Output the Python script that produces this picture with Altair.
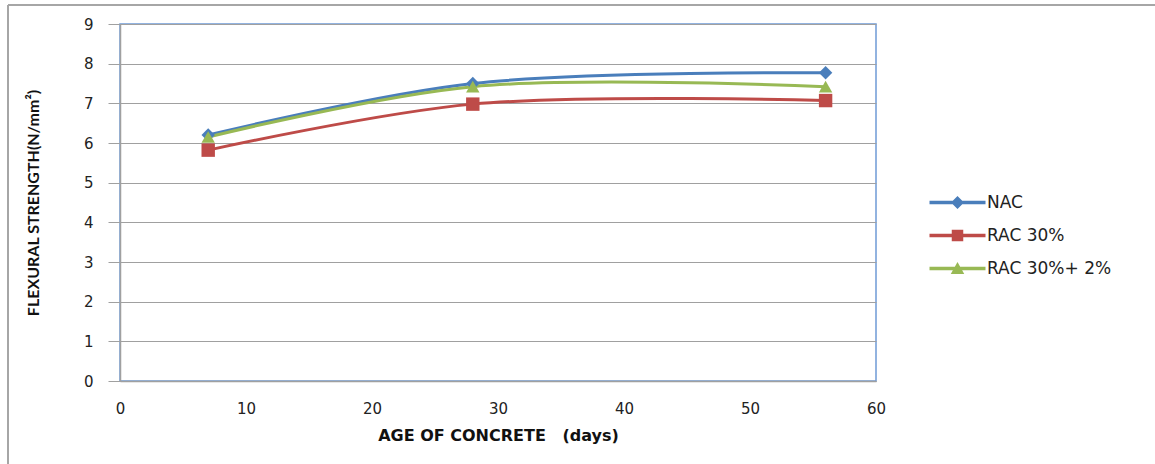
import altair as alt
import pandas as pd

days = [7, 28, 56]
series_names = ["NAC", "RAC 30%", "RAC 30%+ 2%"]
nac = [6.2, 7.5, 7.77]
rac30 = [5.82, 6.98, 7.07]
rac30_2 = [6.15, 7.42, 7.42]
x_ticks = [0, 10, 20, 30, 40, 50, 60]
y_ticks = [0, 1, 2, 3, 4, 5, 6, 7, 8, 9]

colors = ["#4a7ebb", "#be4b48", "#98b954"]
markers = ["diamond", "square", "triangle-up"]
# legend symbols: line segment with marker in the middle
legend_paths = [
    "M-5.6,-0.33H5.6V0.33H-5.6Z M0,-1.3L1.3,0L0,1.3L-1.3,0Z",
    "M-5.6,-0.33H5.6V0.33H-5.6Z M-1.15,-1.15H1.15V1.15H-1.15Z",
    "M-5.6,-0.33H5.6V0.33H-5.6Z M0,-1.3L1.35,1.1L-1.35,1.1Z",
]

rows = []
for name, vals in zip(series_names, [nac, rac30, rac30_2]):
    for d, v in zip(days, vals):
        rows.append({"age": d, "strength": v, "series": name, "marker": name})
df = pd.DataFrame(rows)

FONT = "DejaVu Sans"
TFONT = "Lato"
NB = "\u00a0"

x_enc = alt.X("age:Q", scale=alt.Scale(domain=[0, 60], nice=False),
              axis=alt.Axis(values=x_ticks, title=f"AGE OF CONCRETE{NB*3}(days)", grid=False,
                            ticks=False, labelPadding=20, titlePadding=11, labelFlush=False,
                            titleFont=FONT, titleFontSize=16))
y_enc = alt.Y("strength:Q", scale=alt.Scale(domain=[0, 9], nice=False),
              axis=alt.Axis(values=y_ticks, title="FLEXURAL STRENGTH(N/mm²)", grid=True,
                            tickSize=12, labelPadding=15, titlePadding=42,
                            titleFont=TFONT, titleFontSize=16))
color_enc = alt.Color("series:N", scale=alt.Scale(domain=series_names, range=colors), legend=None)

legend_def = alt.Legend(title=None, orient="none", legendX=829, legendY=170,
                        symbolSize=100, symbolStrokeWidth=0, symbolOpacity=1,
                        labelOffset=21, rowPadding=15, labelFontSize=17,
                        labelFont=FONT, labelColor="#222222", padding=0)

base = alt.Chart(df)

lines = base.mark_line(strokeWidth=3, interpolate="catmull-rom").encode(
    x=x_enc, y=y_enc, color=color_enc, detail="series:N"
)
points = base.mark_point(filled=True, opacity=1, size=180, strokeWidth=0).encode(
    x=x_enc, y=y_enc, color=color_enc,
    shape=alt.Shape("marker:N", scale=alt.Scale(domain=series_names, range=markers), legend=None),
)
legend_layer = base.mark_point(filled=True, opacity=0, size=100).encode(
    x=x_enc, y=y_enc,
    color=alt.Color("series:N", scale=alt.Scale(domain=series_names, range=colors),
                    legend=legend_def),
    shape=alt.Shape("series:N", scale=alt.Scale(domain=series_names, range=legend_paths),
                    legend=legend_def),
)

frame_df = pd.DataFrame({"k": [0]})
frame_left = alt.Chart(frame_df).mark_rule(color="#a6a6a6", strokeWidth=2, clip=False).encode(
    x=alt.value(-112), y=alt.value(-19), y2=alt.value(460)
)
frame_top = alt.Chart(frame_df).mark_rule(color="#a6a6a6", strokeWidth=2, clip=False).encode(
    x=alt.value(-112), x2=alt.value(1040), y=alt.value(-19)
)

chart = alt.layer(frame_left, frame_top, lines, legend_layer, points).resolve_scale(
    shape="independent", color="independent"
).properties(
    width=756, height=357,
    autosize=alt.AutoSizeParams(type="none"),
    padding={"left": 120, "top": 24, "right": 279, "bottom": 83},
    background="white",
).configure_view(
    stroke="#6f9bd6", strokeWidth=1.5
).configure_axis(
    domainColor="#a0a0a0", domainWidth=1.5, gridColor="#a0a0a0", gridWidth=1,
    tickColor="#a0a0a0", labelFont=FONT, labelFontSize=15, labelColor="#222222",
    titleFontWeight="bold", titleColor="#111111",
)

chart.save("out.html", embed_options={"renderer": "svg", "actions": False})
